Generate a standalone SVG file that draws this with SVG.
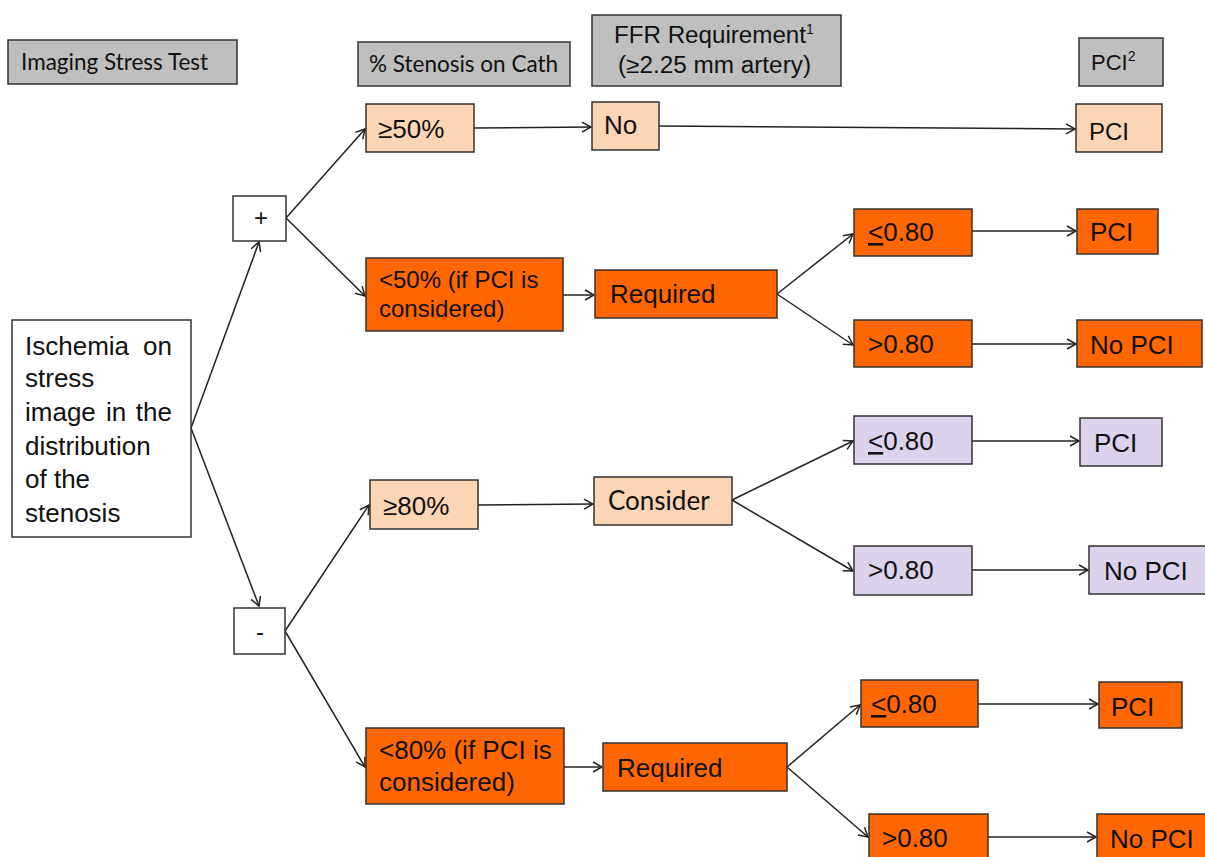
<svg xmlns="http://www.w3.org/2000/svg" width="1205" height="857" viewBox="0 0 1205 857">
<defs>
<marker id="arr" markerWidth="12" markerHeight="12" refX="10" refY="6" orient="auto" markerUnits="userSpaceOnUse">
<path d="M1,1 L10,6 L1,11" fill="none" stroke="#222" stroke-width="1.5"/>
</marker>
<style>
rect{stroke:#333;stroke-width:1.5}
.g{fill:#bfbfbf}.p{fill:#fcd5b5}.o{fill:#ff6600}.l{fill:#dcd2ec}.w{fill:#fff}
text{font-family:"Liberation Sans",Arial,sans-serif;fill:#111;font-size:26px}
.c{font-family:Lato,"Open Sans",sans-serif}
.h{font-size:22.5px}
.f{font-size:23px}
.m{font-size:24px}
.k{font-size:22px}
.sup{font-size:14px}
.sg{font-size:24px}
line{stroke:#222;stroke-width:1.5;marker-end:url(#arr)}
</style>
</defs>
<rect width="1205" height="857" fill="#fff" style="stroke:none"/>
<g id="connectors">
<line x1="191" y1="428" x2="259" y2="242"/>
<line x1="191" y1="428" x2="259" y2="606"/>
<line x1="286" y1="218" x2="365" y2="129"/>
<line x1="286" y1="218" x2="365" y2="296"/>
<line x1="474" y1="128" x2="591" y2="127"/>
<line x1="659" y1="126" x2="1075" y2="129"/>
<line x1="563" y1="295" x2="594" y2="295"/>
<line x1="777" y1="294" x2="853" y2="234"/>
<line x1="777" y1="294" x2="853" y2="345"/>
<line x1="972" y1="231" x2="1076" y2="231"/>
<line x1="972" y1="344" x2="1076" y2="344"/>
<line x1="285" y1="631" x2="369" y2="505"/>
<line x1="285" y1="631" x2="365" y2="767"/>
<line x1="478" y1="505" x2="593" y2="504"/>
<line x1="732" y1="500" x2="853" y2="441"/>
<line x1="732" y1="500" x2="853" y2="571"/>
<line x1="972" y1="441" x2="1079" y2="441"/>
<line x1="972" y1="570" x2="1088" y2="570"/>
<line x1="564" y1="767" x2="602" y2="767"/>
<line x1="787" y1="767" x2="860" y2="705"/>
<line x1="787" y1="767" x2="868" y2="837"/>
<line x1="978" y1="704" x2="1098" y2="704"/>
<line x1="988" y1="837" x2="1096" y2="837"/>
</g>
<g id="h-imaging"><rect class="g" x="8" y="40" width="229" height="44"/><text class="c h" x="21" y="70">Imaging Stress Test</text></g>
<g id="h-stenosis"><rect class="g" x="358" y="42" width="212" height="44"/><text class="c h" x="369" y="72">% Stenosis on Cath</text></g>
<g id="h-ffr"><rect class="g" x="592" y="15" width="249" height="71"/><text class="f" x="614" y="43"><tspan textLength="192" lengthAdjust="spacingAndGlyphs">FFR Requirement</tspan><tspan class="sup" dy="-9">1</tspan></text><text class="f" x="618" y="73" textLength="193" lengthAdjust="spacingAndGlyphs">(≥2.25 mm artery)</text></g>
<g id="h-pci"><rect class="g" x="1079" y="38" width="84" height="48"/><text class="k" x="1091" y="70">PCI<tspan class="sup" dy="-9">2</tspan></text></g>
<g id="ischemia"><rect class="w" x="12" y="320" width="179" height="217"/>
<text x="25" y="355">Ischemia</text><text x="172" y="355" text-anchor="end">on</text>
<text x="25" y="387">stress</text>
<text x="25" y="421">image</text><text x="106" y="421">in</text><text x="172" y="421" text-anchor="end">the</text>
<text x="25" y="455">distribution</text>
<text x="25" y="488">of the</text>
<text x="25" y="522">stenosis</text></g>
<g id="plus"><rect class="w" x="233" y="196" width="53" height="45"/><text class="sg" x="261" y="226" text-anchor="middle">+</text></g>
<g id="minus"><rect class="w" x="234" y="608" width="51" height="46"/><text class="sg" x="260" y="640" text-anchor="middle">-</text></g>
<g id="ge50"><rect class="p" x="366" y="104" width="108" height="48"/><text x="378" y="138">≥50%</text></g>
<g id="no"><rect class="p" x="592" y="102" width="67" height="48"/><text x="604" y="134">No</text></g>
<g id="pci1"><rect class="p" x="1076" y="104" width="86" height="48"/><text class="m" x="1089" y="140">PCI</text></g>
<g id="lt50"><rect class="o" x="366" y="258" width="197" height="73"/><text class="m" x="379" y="288">&lt;50% (if PCI is</text><text class="m" x="379" y="317">considered)</text></g>
<g id="req1"><rect class="o" x="595" y="270" width="182" height="48"/><text x="610" y="303">Required</text></g>
<g id="le1"><rect class="o" x="854" y="209" width="118" height="47"/><text x="868" y="241"><tspan text-decoration="underline">&lt;</tspan>0.80</text></g>
<g id="pci2"><rect class="o" x="1077" y="209" width="81" height="45"/><text x="1090" y="241">PCI</text></g>
<g id="gt1"><rect class="o" x="854" y="320" width="118" height="47"/><text x="868" y="353">&gt;0.80</text></g>
<g id="nopci1"><rect class="o" x="1077" y="320" width="125" height="47"/><text x="1090" y="354">No PCI</text></g>
<g id="ge80"><rect class="p" x="370" y="480" width="108" height="49"/><text x="383" y="515">≥80%</text></g>
<g id="consider"><rect class="p" x="594" y="477" width="138" height="48"/><text class="c" x="608" y="510">Consider</text></g>
<g id="le2"><rect class="l" x="854" y="416" width="118" height="48"/><text x="868" y="450"><tspan text-decoration="underline">&lt;</tspan>0.80</text></g>
<g id="pci3"><rect class="l" x="1080" y="418" width="82" height="48"/><text x="1094" y="452">PCI</text></g>
<g id="gt2"><rect class="l" x="854" y="546" width="118" height="49"/><text x="868" y="579">&gt;0.80</text></g>
<g id="nopci2"><rect class="l" x="1089" y="546" width="118" height="48"/><text x="1104" y="580">No PCI</text></g>
<g id="lt80"><rect class="o" x="366" y="728" width="198" height="76"/><text x="379" y="759">&lt;80% (if PCI is</text><text x="379" y="791">considered)</text></g>
<g id="req2"><rect class="o" x="603" y="743" width="184" height="48"/><text x="617" y="777">Required</text></g>
<g id="le3"><rect class="o" x="861" y="680" width="117" height="47"/><text x="871" y="713"><tspan text-decoration="underline">&lt;</tspan>0.80</text></g>
<g id="pci4"><rect class="o" x="1099" y="682" width="83" height="46"/><text x="1111" y="716">PCI</text></g>
<g id="gt3"><rect class="o" x="869" y="814" width="119" height="46"/><text x="882" y="847">&gt;0.80</text></g>
<g id="nopci3"><rect class="o" x="1097" y="814" width="110" height="46"/><text x="1110" y="848">No PCI</text></g>
</svg>
